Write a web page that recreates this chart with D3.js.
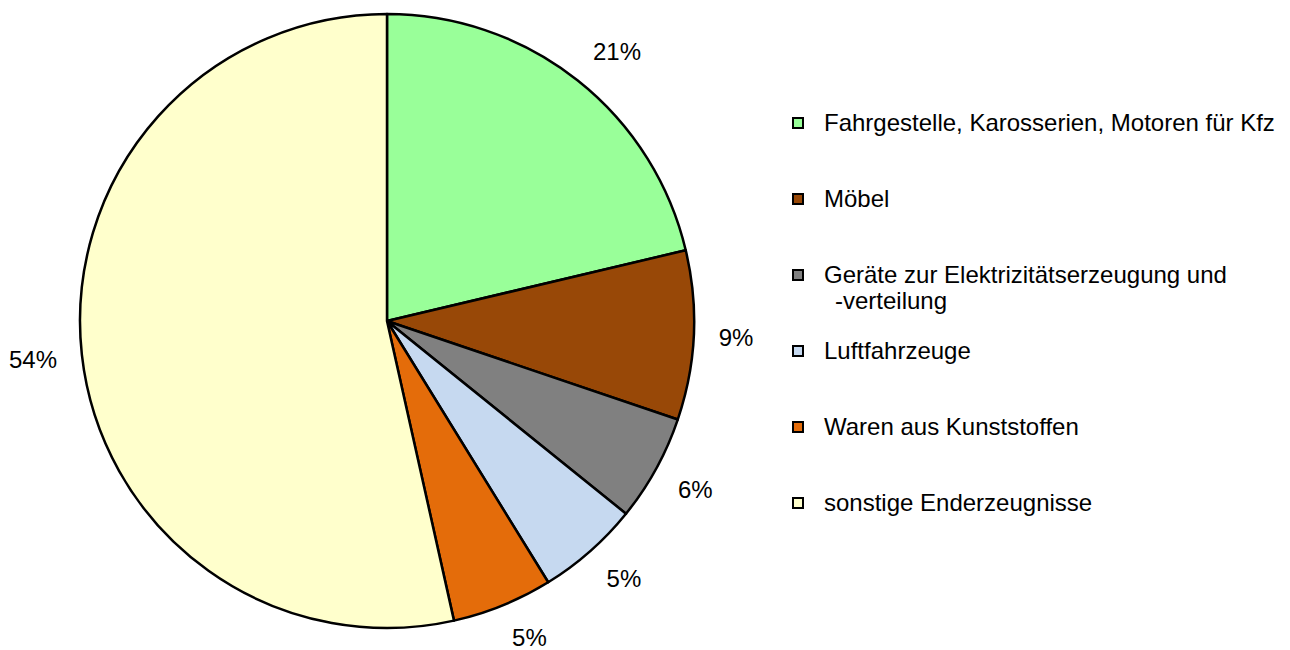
<!DOCTYPE html>
<html>
<head>
<meta charset="utf-8">
<script src="https://cdn.jsdelivr.net/npm/d3@7"></script>
<style>
  body { margin: 0; background: #fff; }
  text { font-family: "Liberation Sans", Arial, sans-serif; fill: #000; }
</style>
</head>
<body>
<div id="chart"></div>
<script>
const categories = [
	'Fahrgestelle, Karosserien, Motoren für Kfz',
	'Möbel',
	'Geräte zur Elektrizitätserzeugung und|-verteilung',
	'Luftfahrzeuge',
	'Waren aus Kunststoffen',
	'sonstige Enderzeugnisse'
];
const shares = [21.3, 8.9, 5.6, 5.4, 5.3, 53.5];
const pctLabels = ['21%', '9%', '6%', '5%', '5%', '54%'];
const colors = ['#99ff99', '#984807', '#808080', '#c6d9f0', '#e46c0a', '#ffffcc'];

const width = 1290, height = 650;
const cx = 387, cy = 321, radius = 307;

const svg = d3.select('#chart').append('svg')
	.attr('width', width)
	.attr('height', height);

const pieGroup = svg.append('g')
	.attr('transform', `translate(${cx},${cy})`);

const pie = d3.pie().sort(null).value(d => d);
const arcs = pie(shares);
const arc = d3.arc().innerRadius(0).outerRadius(radius);
const labelR = radius + 25;

pieGroup.selectAll('path.slice')
	.data(arcs)
	.enter().append('path')
	.attr('class', 'slice')
	.attr('d', arc)
	.attr('fill', (d, i) => colors[i])
	.attr('stroke', '#000')
	.attr('stroke-width', 2.5)
	.attr('stroke-linejoin', 'round');

// the label box corner nearest the pie sits on a ring just outside the rim
pieGroup.selectAll('text.pct')
	.data(arcs)
	.enter().append('text')
	.attr('class', 'pct')
	.attr('text-anchor', 'middle')
	.attr('dy', '0.35em')
	.style('font-size', '24px')
	.text((d, i) => pctLabels[i])
	.attr('transform', function(d) {
		const a = (d.startAngle + d.endAngle) / 2;
		const w = this.getComputedTextLength();
		const h = 18;
		const px = Math.sin(a) * labelR, py = -Math.cos(a) * labelR;
		const x = px + Math.sign(Math.sin(a)) * w / 2;
		const y = py - h / 2 * Math.max(-1, Math.min(1, 2 * Math.cos(a)));
		return `translate(${x},${y})`;
	});

// legend
const legendY = d3.scalePoint()
	.domain(d3.range(categories.length))
	.range([123, 503]);

const legend = svg.append('g');
const items = legend.selectAll('g.item')
	.data(categories)
	.enter().append('g')
	.attr('class', 'item')
	.attr('transform', (d, i) => `translate(793,${legendY(i)})`);

items.append('rect')
	.attr('x', 0).attr('y', -5)
	.attr('width', 10).attr('height', 10)
	.attr('fill', (d, i) => colors[i])
	.attr('stroke', '#000')
	.attr('stroke-width', 2);

items.each(function(d) {
	const lines = d.split('|');
	const t = d3.select(this).append('text')
		.attr('y', 0)
		.style('font-size', '24px');
	lines.forEach((line, j) => {
		t.append('tspan')
			.attr('x', j === 0 ? 31 : 42)
			.attr('dy', j === 0 ? '0.35em' : '26px')
			.text(line);
	});
});
</script>
</body>
</html>
